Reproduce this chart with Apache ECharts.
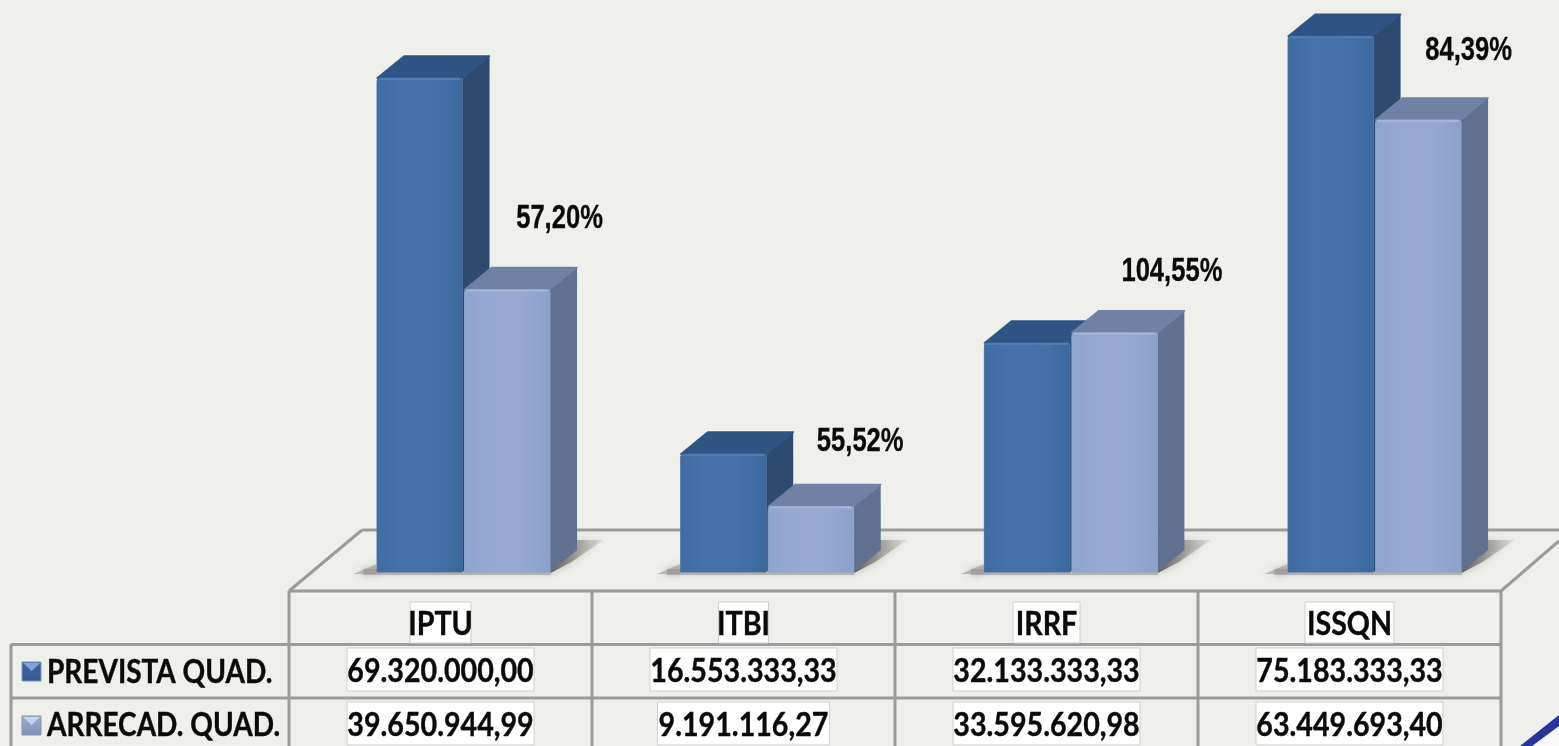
<!DOCTYPE html>
<html><head><meta charset="utf-8">
<style>html,body{margin:0;padding:0;background:#eff0ec}#c{width:1559px;height:746px}</style>
<script src="https://cdn.jsdelivr.net/npm/echarts@6/dist/echarts.min.js"></script>
</head><body><div id="c"></div>
<script>
const categories = ['IPTU','ITBI','IRRF','ISSQN'];
const previstaLabels = ['69.320.000,00','16.553.333,33','32.133.333,33','75.183.333,33'];
const arrecadLabels = ['39.650.944,99','9.191.116,27','33.595.620,98','63.449.693,40'];
const prevista = [69320000.00,16553333.33,32133333.33,75183333.33];
const arrecad = [39650944.99,9191116.27,33595620.98,63449693.40];
const percentLabels = ['57,20%','55,52%','104,55%','84,39%'];
const rowNames = ['PREVISTA QUAD.','ARRECAD. QUAD.'];

const BG='#eff0ec', LINE='#9b9c9a';
const BW=85.5, GAP=1, DX=27, DY=-22;
const pctNudge=[[96,-71],[93,-65],[101,-61],[94,-69]];
const tableX=[289,592,895,1198,1501];
const chart = echarts.init(document.getElementById('c'),null,{renderer:'canvas'});

function vgrad(a,b){return new echarts.graphic.LinearGradient(0,0,0,1,[{offset:0,color:a},{offset:1,color:b}]);}
function hgrad(stops){return new echarts.graphic.LinearGradient(0,0,1,0,stops.map((c,i)=>({offset:i/(stops.length-1),color:c})));}
function poly(points,fill){return {type:'polygon',shape:{points},style:{fill}};}

function bar3d(side,pal){
  return function(params,api){
    const i=api.value(0), v=api.value(1);
    const base=api.coord([i,0]), top=api.coord([i,v]);
    const x0=base[0]+(side<0?-BW-GAP:GAP), x1=x0+BW, y0=top[1], y1=base[1];
    return {type:'group',children:[
      poly([[x1,y0],[x1+DX,y0+DY],[x1+DX,y1+DY],[x1,y1]],pal.side),
      {type:'polygon',shape:{points:[[x0,y0],[x0+DX,y0+DY],[x1+DX,y0+DY],[x1,y0]]},
       style:{fill:pal.top,stroke:pal.top,lineWidth:1.5,lineJoin:'round'}},
      {type:'rect',shape:{x:x0,y:y0,width:BW,height:y1-y0,r:[3,3,0,0]},
       style:{fill:hgrad(pal.front),stroke:pal.edge,lineWidth:1}},
      {type:'line',shape:{x1:x0+2,y1:y0+1,x2:x1-2,y2:y0+1},style:{stroke:pal.hi,lineWidth:2}}
    ]};
  };
}
function shadowItem(params,api){
  const i=api.value(0), base=api.coord([i,0]);
  const cx=base[0], y=base[1];
  return {type:'group',children:[
    {type:'polygon',shape:{points:[[cx-110,y+2],[cx-87,y+2],[cx-87,y-8]]},
     style:{fill:'rgba(150,150,145,0.55)',shadowBlur:8,shadowColor:'rgba(140,140,135,0.7)'}},
    {type:'polygon',shape:{points:[[cx-100,y+3],[cx+87,y+3],[cx+87,y-3],[cx-100,y-3]]},
     style:{fill:'rgba(150,150,145,0.55)',shadowBlur:4,shadowColor:'rgba(140,140,135,0.6)'}},
    {type:'polygon',shape:{points:[[cx+87,y+1],[cx+108,y-10],[cx+140,y-32],[cx+112,y-32],[cx+87,y-14]]},
     style:{fill:new echarts.graphic.LinearGradient(0,0,1,0,[{offset:0,color:'rgba(90,90,85,0.95)'},{offset:1,color:'rgba(150,150,145,0.2)'}]),
       shadowBlur:8,shadowColor:'rgba(120,120,115,0.55)'}}
  ]};
}
function label(x,y,text,scale,font,align,weight){
  return {type:'text',x,y,scaleX:scale,style:{x:0,y:0,text,align:align||'center',verticalAlign:'middle',fill:'#0a0a0a',font,
    stroke:'#0a0a0a',lineWidth:weight||0}};
}
const TF='700 32px Lato, sans-serif';
function cellText(x,y,text,w,h){
  return [
    {type:'rect',shape:{x:x-w/2,y:y-h/2,width:w,height:h},style:{fill:'#fff',stroke:'#cfcfcf',lineWidth:1}},
    label(x,y+2,text,0.895,TF,'center',0.4)
  ];
}
function tableItem(params,api){
  const i=api.value(0), cx=(tableX[i]+tableX[i+1])/2;
  const hw=[61,50,67,89][i];
  return {type:'group',children:[
    ...cellText(cx,622.5,categories[i],hw,41),
    ...cellText(cx,669.5,previstaLabels[i],187,43),
    ...cellText(cx,723.5,arrecadLabels[i],i===1?172:187,43)
  ]};
}
function pctItem(params,api){
  const i=api.value(0), p=api.coord([i,api.value(1)]);
  return label(p[0]+pctNudge[i][0],p[1]+pctNudge[i][1],percentLabels[i],0.775,'700 33px "Liberation Sans", sans-serif','center',0.3);
}

const dark={front:['#3f6ca2','#4674aa','#4472a8','#3c689c'],side:'#2d4a6f',top:'#2f5484',edge:'#4a6f9c',hi:'#4f7db3'};
const light={front:['#8ea5cf','#95a9d3','#95a9d3','#8aa1cb'],side:'#5f7090',top:'#6f82a5',edge:'#8ea2c6',hi:'#a3b6da'};
const idx=categories.map((c,i)=>i);

const furniture=[];
const ln=(x1,y1,x2,y2)=>furniture.push({type:'line',z:1,shape:{x1,y1,x2,y2},style:{stroke:LINE,lineWidth:3}});
ln(362,530,1559,530); ln(362,530,289,591); ln(1501,591,1559,541);
ln(289,591,1501,591); ln(11,644.5,1501,644.5); ln(11,698,1501,698);
tableX.forEach(x=>ln(x,591,x,746)); ln(11,644.5,11,746);

function swatch(x,y,a,b,c){
  furniture.push(
    {type:'rect',z:5,shape:{x,y,width:19,height:19},style:{fill:vgrad(a,b),stroke:'#8b93a3',lineWidth:1}},
    {type:'polygon',z:6,shape:{points:[[x+1,y+1],[x+18,y+1],[x+9.5,y+9]]},style:{fill:c}}
  );
}
swatch(22,662,'#3e6ca3','#2f5988','#7ea6d6');
swatch(22,716,'#9aaed4','#7f92b8','#c7d6ee');
rowNames.forEach((t,k)=>furniture.push(Object.assign(label(47,[673,726][k],t,0.875,TF,'left',0.4),{z:6})));
furniture.push(
  {type:'polygon',z:6,shape:{points:[[1559,728],[1534,746],[1559,746]]},style:{fill:'#f9f9f8'}},
  {type:'polygon',z:7,shape:{points:[[1559,715],[1520,746],[1532,746],[1559,726]]},style:{fill:'#27359a'}}
);

chart.setOption({
  backgroundColor:BG,
  animation:false,
  grid:{left:311.7,width:1214.7,top:2,bottom:174,containLabel:false},
  xAxis:{type:'category',data:categories,show:false},
  yAxis:{type:'value',min:0,max:80000000,interval:20000000,show:false},
  graphic:{elements:furniture},
  series:[
    {type:'custom',name:'sombra',z:2,renderItem:shadowItem,data:idx.map(i=>[i,0]),encode:{x:0,y:1},clip:false},
    {type:'custom',name:rowNames[0],z:3,renderItem:bar3d(-1,dark),data:idx.map(i=>[i,prevista[i]]),encode:{x:0,y:1},clip:false},
    {type:'custom',name:rowNames[1],z:4,renderItem:bar3d(1,light),data:idx.map(i=>[i,arrecad[i]]),encode:{x:0,y:1},clip:false},
    {type:'custom',name:'tabela',z:8,renderItem:tableItem,data:idx.map(i=>[i,0]),encode:{x:0,y:1},clip:false},
    {type:'custom',name:'percentual',z:9,renderItem:pctItem,data:idx.map(i=>[i,arrecad[i]]),encode:{x:0,y:1},clip:false}
  ]
});
</script></body></html>
